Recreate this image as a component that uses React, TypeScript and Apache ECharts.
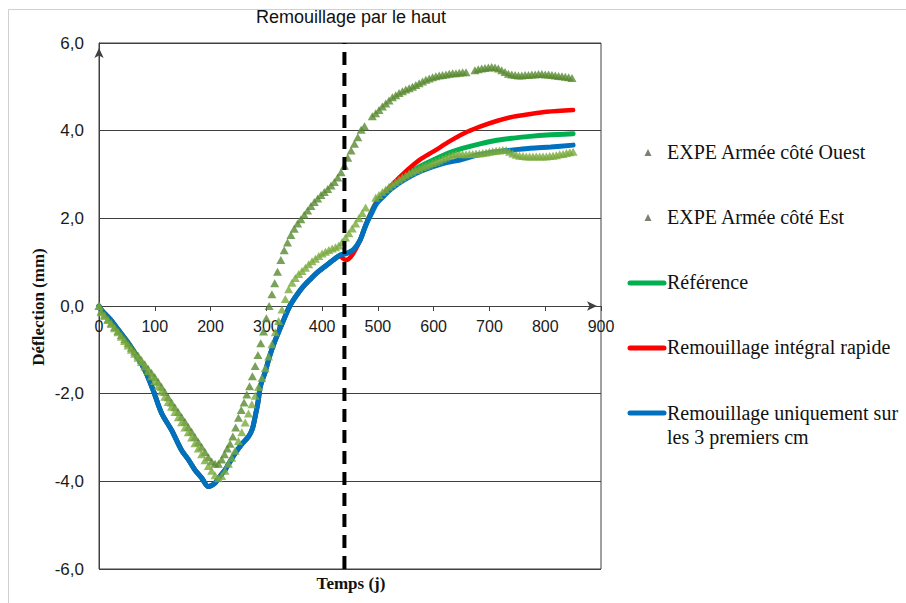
import React, { useEffect, useRef } from "react";
import * as echarts from "echarts";

const TITLE = "Remouillage par le haut";
const X_NAME = "Temps (j)";
const Y_NAME = "Déflection (mm)";
const NAME_OUEST = "EXPE Armée côté Ouest";
const NAME_EST = "EXPE Armée côté Est";
const NAME_REF = "Référence";
const NAME_RAPIDE = "Remouillage intégral rapide";
const NAME_3CM = "Remouillage uniquement sur\nles 3 premiers cm";
const REWET_DAY = 440;

const X_MIN = 0, X_MAX = 900, X_STEP = 100;
const Y_MIN = -6, Y_MAX = 6, Y_STEP = 2;

// EXPE Armée côté Ouest (darker triangles) [jour, déflection]
const ouest: [number, number][] = [
  [0, 0], [4, -0.12], [10, -0.2], [16, -0.3], [22, -0.38], [28, -0.48], [34, -0.57], [40, -0.66], [46, -0.76],
  [52, -0.85], [58, -0.95], [64, -1.04], [70, -1.13], [76, -1.23], [82, -1.33], [88, -1.43], [94, -1.52],
  [100, -1.62], [106, -1.73], [112, -1.84], [118, -1.96], [124, -2.08], [130, -2.2], [136, -2.31], [142, -2.42],
  [148, -2.53], [154, -2.64], [160, -2.76], [166, -2.87], [172, -2.99], [178, -3.1], [184, -3.21], [190, -3.33],
  [196, -3.45], [202, -3.55], [208, -3.6], [214, -3.6], [220, -3.5], [225, -3.38], [230, -3.25], [235, -3.14],
  [240, -2.98], [245, -2.77], [250, -2.55], [255, -2.37], [260, -2.2], [265, -2.02], [270, -1.83], [275, -1.6],
  [280, -1.37], [285, -1.12], [290, -0.85], [295, -0.58], [300, -0.28], [305, 0.0], [310, 0.27], [315, 0.52],
  [320, 0.78], [326, 1.05], [332, 1.27], [338, 1.45], [344, 1.62], [350, 1.76], [356, 1.88], [362, 1.98],
  [368, 2.08], [374, 2.18], [380, 2.28], [386, 2.37], [392, 2.45], [398, 2.53], [404, 2.6], [410, 2.67],
  [416, 2.75], [422, 2.83], [428, 2.93], [434, 3.05], [440, 3.2], [446, 3.38], [452, 3.55], [458, 3.7],
  [464, 3.85], [470, 4.02], [476, 4.1], [490, 4.33], [496, 4.4], [502, 4.47], [508, 4.55], [514, 4.62],
  [520, 4.69], [526, 4.76], [532, 4.81], [538, 4.86], [544, 4.9], [550, 4.94], [556, 4.97], [562, 5.0],
  [568, 5.04], [574, 5.08], [580, 5.12], [586, 5.16], [592, 5.19], [598, 5.22], [604, 5.24], [610, 5.26],
  [616, 5.27], [622, 5.28], [628, 5.3], [634, 5.31], [640, 5.31], [646, 5.32], [652, 5.33], [658, 5.33],
  [674, 5.38], [680, 5.4], [686, 5.42], [692, 5.43], [698, 5.44], [704, 5.45], [710, 5.44], [716, 5.42],
  [722, 5.38], [728, 5.34], [734, 5.3], [740, 5.28], [746, 5.27], [752, 5.26], [758, 5.26], [764, 5.27],
  [770, 5.27], [776, 5.28], [782, 5.28], [788, 5.29], [794, 5.29], [800, 5.28], [806, 5.28], [812, 5.27],
  [818, 5.26], [824, 5.25], [830, 5.24], [836, 5.23], [842, 5.22], [848, 5.2],
];

// EXPE Armée côté Est (lighter triangles)
const est: [number, number][] = [
  [0, 0], [4, -0.14], [10, -0.23], [16, -0.32], [22, -0.41], [28, -0.51], [34, -0.6], [40, -0.7], [46, -0.8],
  [52, -0.9], [58, -1.0], [64, -1.09], [70, -1.18], [76, -1.28], [82, -1.38], [88, -1.49], [94, -1.6],
  [100, -1.71], [106, -1.83], [112, -1.95], [118, -2.07], [124, -2.19], [130, -2.3], [136, -2.42], [142, -2.54],
  [148, -2.65], [154, -2.77], [160, -2.88], [166, -3.0], [172, -3.13], [178, -3.25], [184, -3.38], [190, -3.52],
  [196, -3.65], [202, -3.76], [208, -3.86], [214, -3.93], [220, -3.88], [226, -3.76], [232, -3.6], [238, -3.46],
  [244, -3.3], [250, -3.08], [256, -2.88], [262, -2.66], [268, -2.45], [274, -2.24], [280, -2.05], [286, -1.85],
  [292, -1.64], [298, -1.42], [304, -1.15], [310, -0.87], [316, -0.6], [322, -0.34], [328, -0.08], [334, 0.16],
  [340, 0.38], [346, 0.53], [352, 0.64], [358, 0.73], [364, 0.8], [370, 0.87], [376, 0.95], [382, 1.02],
  [388, 1.08], [394, 1.14], [400, 1.2], [406, 1.24], [412, 1.28], [418, 1.31], [424, 1.34], [430, 1.38],
  [436, 1.46], [442, 1.56], [448, 1.66], [454, 1.77], [460, 1.88], [466, 2.0], [472, 2.12], [478, 2.25],
  [496, 2.47], [502, 2.53], [508, 2.6], [514, 2.66], [520, 2.72], [526, 2.78], [532, 2.83], [538, 2.88],
  [544, 2.93], [550, 2.98], [556, 3.02], [562, 3.06], [568, 3.1], [574, 3.13], [580, 3.17], [586, 3.2],
  [592, 3.23], [598, 3.26], [604, 3.29], [610, 3.32], [616, 3.36], [622, 3.39], [628, 3.42], [634, 3.45],
  [640, 3.47], [646, 3.47], [652, 3.46], [658, 3.46], [664, 3.47], [670, 3.47], [676, 3.48], [682, 3.48],
  [688, 3.49], [694, 3.5], [700, 3.52], [706, 3.53], [712, 3.54], [718, 3.55], [724, 3.56], [730, 3.56],
  [736, 3.52], [742, 3.48], [748, 3.45], [754, 3.43], [760, 3.42], [766, 3.41], [772, 3.41], [778, 3.41],
  [784, 3.41], [790, 3.41], [796, 3.41], [802, 3.41], [808, 3.42], [814, 3.43], [820, 3.44], [826, 3.46],
  [832, 3.47], [838, 3.49], [844, 3.51], [850, 3.52],
];

// Remouillage uniquement sur les 3 premiers cm (blue)
const blue: [number, number][] = [
  [0, 0], [5, -0.1], [20, -0.3], [35, -0.55], [50, -0.8], [64, -1.07], [82, -1.46], [97, -1.92], [112, -2.44],
  [130, -2.83], [148, -3.29], [160, -3.5], [172, -3.74], [184, -3.92], [196, -4.12], [208, -4.04], [216, -3.9],
  [226, -3.74], [235, -3.55], [244, -3.36], [256, -3.15], [268, -2.98], [275, -2.8], [280, -2.52], [285, -2.2],
  [289, -1.85], [294, -1.65], [298, -1.5], [307, -1.1], [316, -0.78], [330, -0.35], [342, 0], [354, 0.24],
  [366, 0.44], [378, 0.6], [390, 0.75], [405, 0.9], [420, 1.05], [432, 1.16], [444, 1.2], [456, 1.28],
  [468, 1.5], [474, 1.7], [480, 1.89], [489, 2.12], [498, 2.34], [510, 2.5], [522, 2.65], [540, 2.82],
  [557, 2.95], [578, 3.08], [599, 3.18], [623, 3.27], [647, 3.33], [680, 3.45], [713, 3.52], [743, 3.56],
  [773, 3.6], [810, 3.63], [850, 3.67],
];

// Remouillage intégral rapide (red) : same as blue up to 420 days, then
const redTail: [number, number][] = [
  [432, 1.14], [438, 1.08], [442, 1.05], [448, 1.08], [456, 1.2], [468, 1.5], [480, 1.9], [498, 2.37],
  [510, 2.55], [522, 2.72], [540, 2.95], [557, 3.15], [578, 3.36], [599, 3.52], [629, 3.76], [653, 3.93],
  [683, 4.09], [713, 4.22], [743, 4.32], [773, 4.38], [803, 4.43], [850, 4.47],
];

// Référence (green) : same as blue up to 456 days, then
const greenTail: [number, number][] = [
  [468, 1.5], [480, 1.9], [498, 2.38], [522, 2.7], [540, 2.9], [557, 3.05], [578, 3.2], [599, 3.33],
  [629, 3.5], [653, 3.6], [683, 3.7], [713, 3.78], [743, 3.83], [773, 3.87], [803, 3.9], [850, 3.93],
];

const C_OUEST = "#588a2f";
const C_EST = "#79aa3c";
const C_REF = "#00b050";
const C_RED = "#ff0000";
const C_BLUE = "#0070c0";

export default function App() {
  const ref = useRef<HTMLDivElement>(null);
  useEffect(() => {
    if (!ref.current) return;
    const chart = echarts.init(ref.current, null, { renderer: "svg" });
    const redData = blue.filter((p) => p[0] <= 420).concat(redTail);
    const greenData = blue.filter((p) => p[0] <= 456).concat(greenTail);
    const serif = '"Liberation Serif", "Times New Roman", serif';
    const sans = '"Liberation Sans", Arial, sans-serif';
    const gridTop = 43;
    const gridBottom = 34;
    const plotH = 603 - gridTop - gridBottom;
    // distance from bottom of plot to the y = 0 line, computed from the axis range
    const zeroOffset = (plotH * (0 - Y_MIN)) / (Y_MAX - Y_MIN);
    const legendText = (y: number, text: string) => ({
      type: "text",
      x: 667,
      y,
      style: { text, fontFamily: serif, fontSize: 20, fill: "#111", align: "left", verticalAlign: "middle", lineHeight: 24 },
    });
    const legendLine = (y: number, color: string) => ({
      type: "line",
      shape: { x1: 630, y1: y, x2: 664, y2: y },
      style: { stroke: color, lineWidth: 5, lineCap: "round" },
    });
    const legendTri = (y: number) => ({
      type: "polygon",
      shape: { points: [[648, y - 4], [644.5, y + 3], [651.5, y + 3]] },
      style: { fill: "#7b8074" },
    });
    chart.setOption({
      animation: false,
      backgroundColor: "#fff",
      grid: { left: 99, right: 305, top: gridTop, bottom: gridBottom, show: true, borderColor: "#404040", borderWidth: 1 },
      xAxis: {
        type: "value",
        min: X_MIN,
        max: X_MAX,
        interval: X_STEP,
        offset: -zeroOffset,
        axisLine: {
          onZero: false, symbol: ["none", "arrow"], symbolSize: [7, 10], symbolOffset: [0, -4],
          lineStyle: { color: "#404040", width: 1 },
        },
        axisTick: { show: true, length: 5, lineStyle: { color: "#404040" } },
        axisLabel: { fontFamily: sans, fontSize: 16, color: "#1a1a1a", margin: 12 },
        splitLine: { show: false },
      },
      yAxis: {
        type: "value",
        min: Y_MIN,
        max: Y_MAX,
        interval: Y_STEP,
        axisLine: {
          show: true, onZero: false, symbol: ["none", "arrow"], symbolSize: [7, 10], symbolOffset: [0, -5],
          lineStyle: { color: "#404040", width: 1 },
        },
        axisTick: { show: false },
        axisLabel: {
          fontFamily: sans,
          fontSize: 17,
          color: "#1a1a1a",
          margin: 15,
          formatter: (v: number) => v.toFixed(1).replace(".", ","),
        },
        splitLine: { show: true, lineStyle: { color: "#404040", width: 1 } },
      },
      series: [
        {
          name: NAME_REF, type: "line", data: greenData, smooth: 0.3, showSymbol: false, symbol: "none", z: 2,
          lineStyle: { color: C_REF, width: 5, cap: "round" },
        },
        {
          name: NAME_RAPIDE, type: "line", data: redData, smooth: 0.3, showSymbol: false, symbol: "none", z: 3,
          lineStyle: { color: C_RED, width: 4.5, cap: "round" },
        },
        {
          name: NAME_3CM, type: "line", data: blue, smooth: 0.3, showSymbol: false, symbol: "none", z: 4,
          lineStyle: { color: C_BLUE, width: 5, cap: "round" },
        },
        {
          name: NAME_OUEST, type: "scatter", data: ouest, symbol: "triangle", symbolSize: [9, 8], z: 5,
          itemStyle: { color: C_OUEST },
        },
        {
          name: NAME_EST, type: "scatter", data: est, symbol: "triangle", symbolSize: [9, 8], z: 6,
          itemStyle: { color: C_EST },
        },
        {
          name: "rewet", type: "line", data: [[REWET_DAY, Y_MIN], [REWET_DAY, Y_MAX]], symbol: "none", z: 10,
          silent: true, clip: false,
          lineStyle: { color: "#000", width: 4, type: [13, 8] },
        },
      ],
      graphic: [
        { type: "rect", shape: { x: 8.5, y: 9.5, width: 905, height: 600 }, style: { fill: "none", stroke: "#d0d0d0", lineWidth: 1 }, silent: true },
        {
          type: "text", x: 351, y: 17,
          style: { text: TITLE, fontFamily: sans, fontSize: 18, fill: "#111", align: "center", verticalAlign: "middle" },
        },
        {
          type: "text", x: 351, y: 583,
          style: { text: X_NAME, fontFamily: serif, fontSize: 17, fontWeight: "bold", fill: "#111", align: "center", verticalAlign: "middle" },
        },
        {
          type: "text", x: 38, y: 307, rotation: Math.PI / 2,
          style: { text: Y_NAME, fontFamily: serif, fontSize: 17, fontWeight: "bold", fill: "#111", align: "center", verticalAlign: "middle" },
        },
        legendTri(153),
        legendText(152, NAME_OUEST),
        legendTri(218),
        legendText(217, NAME_EST),
        legendLine(283, C_REF),
        legendText(282, NAME_REF),
        legendLine(348, C_RED),
        legendText(347, NAME_RAPIDE),
        legendLine(413, C_BLUE),
        legendText(425, NAME_3CM),
      ],
    });
    return () => chart.dispose();
  }, []);
  return <div ref={ref} style={{ position: "absolute", left: 0, top: 0, width: 906, height: 603 }} />;
}
